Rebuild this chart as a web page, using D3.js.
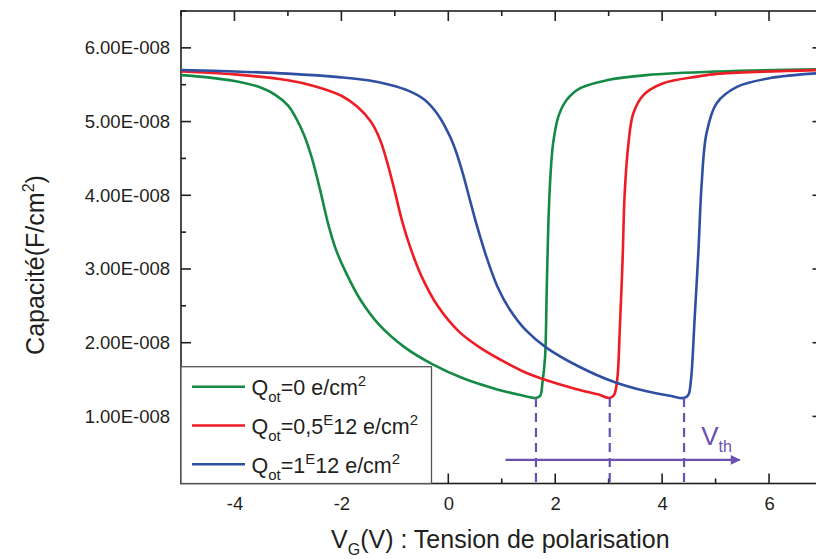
<!DOCTYPE html>
<html>
<head>
<meta charset="utf-8">
<script src="https://cdn.jsdelivr.net/npm/d3@7"></script>
<style>
  body { margin: 0; background: #fff; }
  svg { display: block; font-family: "Liberation Sans", Arial, sans-serif; }
</style>
</head>
<body>
<svg id="chart" width="816" height="559"></svg>
<script>
// Capacitance values in units of 1E-008 F/cm^2
const greenV = [-5, -4.5, -4.0, -3.5, -3.25, -3.0, -2.85, -2.7, -2.55, -2.4, -2.25, -2.1, -1.9, -1.65, -1.3, -0.8, -0.3, 0.3, 0.9, 1.35, 1.64, 1.72, 1.76, 1.81, 1.84, 1.87, 1.91, 1.96, 2.06, 2.21, 2.46, 2.96, 3.71, 5.08, 7];
const greenC = [5.63, 5.60, 5.55, 5.46, 5.37, 5.22, 5.05, 4.82, 4.50, 4.08, 3.62, 3.26, 2.93, 2.59, 2.25, 1.93, 1.71, 1.51, 1.37, 1.29, 1.25, 1.28, 1.45, 1.80, 2.67, 3.57, 4.25, 4.70, 5.07, 5.29, 5.45, 5.56, 5.63, 5.68, 5.71];

const redV = [-5, -4, -3, -2.5, -2.0, -1.7, -1.45, -1.28, -1.14, -1.0, -0.86, -0.7, -0.5, -0.2, 0.2, 0.6, 1.0, 1.4, 1.84, 2.4, 2.8, 3.02, 3.10, 3.16, 3.21, 3.26, 3.30, 3.37, 3.46, 3.65, 4.02, 4.65, 5.08, 7];
const redC = [5.68, 5.64, 5.56, 5.48, 5.35, 5.20, 5.00, 4.76, 4.44, 4.05, 3.64, 3.27, 2.90, 2.50, 2.15, 1.93, 1.76, 1.61, 1.49, 1.37, 1.30, 1.25, 1.29, 1.50, 2.22, 3.12, 4.03, 4.70, 5.11, 5.36, 5.52, 5.61, 5.65, 5.70];

const blueV = [-5, -4, -3, -2, -1.5, -1.1, -0.75, -0.45, -0.2, 0.03, 0.15, 0.27, 0.40, 0.55, 0.72, 0.92, 1.15, 1.45, 1.84, 2.46, 3.09, 3.71, 4.15, 4.41, 4.49, 4.54, 4.61, 4.68, 4.74, 4.83, 5.02, 5.40, 6.02, 7];
const blueC = [5.70, 5.68, 5.65, 5.60, 5.56, 5.50, 5.42, 5.30, 5.10, 4.80, 4.58, 4.30, 3.95, 3.55, 3.15, 2.76, 2.45, 2.17, 1.93, 1.67, 1.47, 1.34, 1.28, 1.25, 1.29, 1.50, 2.35, 3.26, 4.16, 4.84, 5.25, 5.47, 5.59, 5.66];

const vthValues = [1.64, 3.02, 4.41];
const xTickValues = [-4, -2, 0, 2, 4, 6];
const yTickValues = [1, 2, 3, 4, 5, 6];
const colors = { green: "#148a44", red: "#ee1c25", blue: "#2f4fa2" };
const purple = "#6a50b0";

const series = [
  { key: "green", V: greenV, C: greenC, pre: "=0", sup: "", post: " e/cm" },
  { key: "red", V: redV, C: redC, pre: "=0,5", sup: "E", post: "12 e/cm" },
  { key: "blue", V: blueV, C: blueC, pre: "=1", sup: "E", post: "12 e/cm" }
];

const svg = d3.select("#chart");
const L = 181, R = 822.5, T = 11, B = 483.5;
const x = d3.scaleLinear().domain([-5, 7]).range([L, R]);
const y = d3.scaleLinear().domain([0.09, 6.5]).range([B, T]);
const ink = "#231f20";

const fmt = d => d.toFixed(2) + "E-008";

const xMinor = d3.range(-5, 8, 1).filter(v => !xTickValues.includes(v));
const yMinor = d3.range(0.5, 6.6, 1);

const axG = svg.append("g").attr("stroke", ink).attr("stroke-width", 1.6);
xTickValues.forEach(v => {
  axG.append("line").attr("x1", x(v)).attr("x2", x(v)).attr("y1", B).attr("y2", B - 10);
  axG.append("line").attr("x1", x(v)).attr("x2", x(v)).attr("y1", T).attr("y2", T + 10);
});
xMinor.forEach(v => {
  axG.append("line").attr("x1", x(v)).attr("x2", x(v)).attr("y1", B).attr("y2", B - 5);
  axG.append("line").attr("x1", x(v)).attr("x2", x(v)).attr("y1", T).attr("y2", T + 5);
});
yTickValues.forEach(v => {
  axG.append("line").attr("x1", L).attr("x2", L + 10).attr("y1", y(v)).attr("y2", y(v));
  axG.append("line").attr("x1", R).attr("x2", R - 10).attr("y1", y(v)).attr("y2", y(v));
});
yMinor.forEach(v => {
  axG.append("line").attr("x1", L).attr("x2", L + 5).attr("y1", y(v)).attr("y2", y(v));
  axG.append("line").attr("x1", R).attr("x2", R - 5).attr("y1", y(v)).attr("y2", y(v));
});

const xAxis = d3.axisBottom(x).tickValues(xTickValues).tickSize(0).tickPadding(13).tickFormat(d3.format("d"));
const gx = svg.append("g").attr("transform", `translate(0,${B})`).call(xAxis);
gx.select(".domain").remove();
gx.selectAll("text").attr("font-size", 18.5).attr("fill", ink).text(d => d < 0 ? "-" + Math.abs(d) : d);

const yAxis = d3.axisLeft(y).tickValues(yTickValues).tickSize(0).tickPadding(11).tickFormat(fmt);
const gy = svg.append("g").attr("transform", `translate(${L},0)`).call(yAxis);
gy.select(".domain").remove();
gy.selectAll("text").attr("font-size", 18.5).attr("fill", ink);

svg.append("rect").attr("x", L).attr("y", T).attr("width", R - L).attr("height", B - T)
  .attr("fill", "none").attr("stroke", ink).attr("stroke-width", 1.6);

const line = d3.line().curve(d3.curveCatmullRom.alpha(0.5)).x(d => x(d[0])).y(d => y(d[1]));
series.forEach(s => {
  const pts = s.V.map((v, i) => [v, s.C[i]]);
  svg.append("path").datum(pts).attr("d", line)
    .attr("fill", "none").attr("stroke", colors[s.key]).attr("stroke-width", 2.6)
    .attr("stroke-linejoin", "round");
});

vthValues.forEach(v => {
  svg.append("line").attr("x1", x(v)).attr("x2", x(v)).attr("y1", y(1.25)).attr("y2", B)
    .attr("stroke", purple).attr("stroke-width", 2.2).attr("stroke-dasharray", "9,6");
});

svg.append("defs").append("marker").attr("id", "ah").attr("viewBox", "0 0 10 10")
  .attr("refX", 9).attr("refY", 5).attr("markerWidth", 6.5).attr("markerHeight", 4.5)
  .attr("markerUnits", "strokeWidth").attr("orient", "auto")
  .append("path").attr("d", "M0,0 L10,5 L0,10 Z").attr("fill", purple);
svg.append("line").attr("x1", x(1.07)).attr("x2", x(5.45)).attr("y1", y(0.41)).attr("y2", y(0.41))
  .attr("stroke", purple).attr("stroke-width", 2.2).attr("marker-end", "url(#ah)");
const vth = svg.append("text").attr("x", x(4.73)).attr("y", 445).attr("fill", purple).attr("font-size", 26);
vth.append("tspan").text("V");
vth.append("tspan").attr("font-size", 16).attr("dy", 7).text("th");

const lg = svg.append("g");
lg.append("rect").attr("x", L).attr("y", 366.7).attr("width", 250.5).attr("height", B - 366.7)
  .attr("fill", "#fff").attr("stroke", "#555").attr("stroke-width", 1.3);
series.forEach((s, i) => {
  const cy = 386.7 + i * 38.8;
  lg.append("line").attr("x1", 192).attr("x2", 245).attr("y1", cy).attr("y2", cy)
    .attr("stroke", colors[s.key]).attr("stroke-width", 2.6);
  const t = lg.append("text").attr("x", 251.5).attr("y", cy + 8.5).attr("font-size", 21.5).attr("fill", ink);
  t.append("tspan").text("Q");
  t.append("tspan").attr("font-size", 15).attr("dy", 7).text("ot");
  t.append("tspan").attr("dy", -7).text(s.pre);
  if (s.sup) t.append("tspan").attr("font-size", 15).attr("dy", -9).text(s.sup);
  t.append("tspan").attr("dy", s.sup ? 9 : 0).text(s.post);
  t.append("tspan").attr("font-size", 15).attr("dy", -9).text("2");
});

const xt = svg.append("text").attr("x", 331).attr("y", 548).attr("font-size", 25).attr("fill", ink);
xt.append("tspan").text("V");
xt.append("tspan").attr("font-size", 16).attr("dy", 7).text("G");
xt.append("tspan").attr("dy", -7).text("(V) : Tension de polarisation");

const yt = svg.append("text").attr("transform", "translate(44,265) rotate(-90)")
  .attr("text-anchor", "middle").attr("font-size", 25).attr("fill", ink);
yt.append("tspan").text("Capacité(F/cm");
yt.append("tspan").attr("font-size", 16).attr("dy", -10).text("2");
yt.append("tspan").attr("dy", 10).text(")");
</script>
</body>
</html>
